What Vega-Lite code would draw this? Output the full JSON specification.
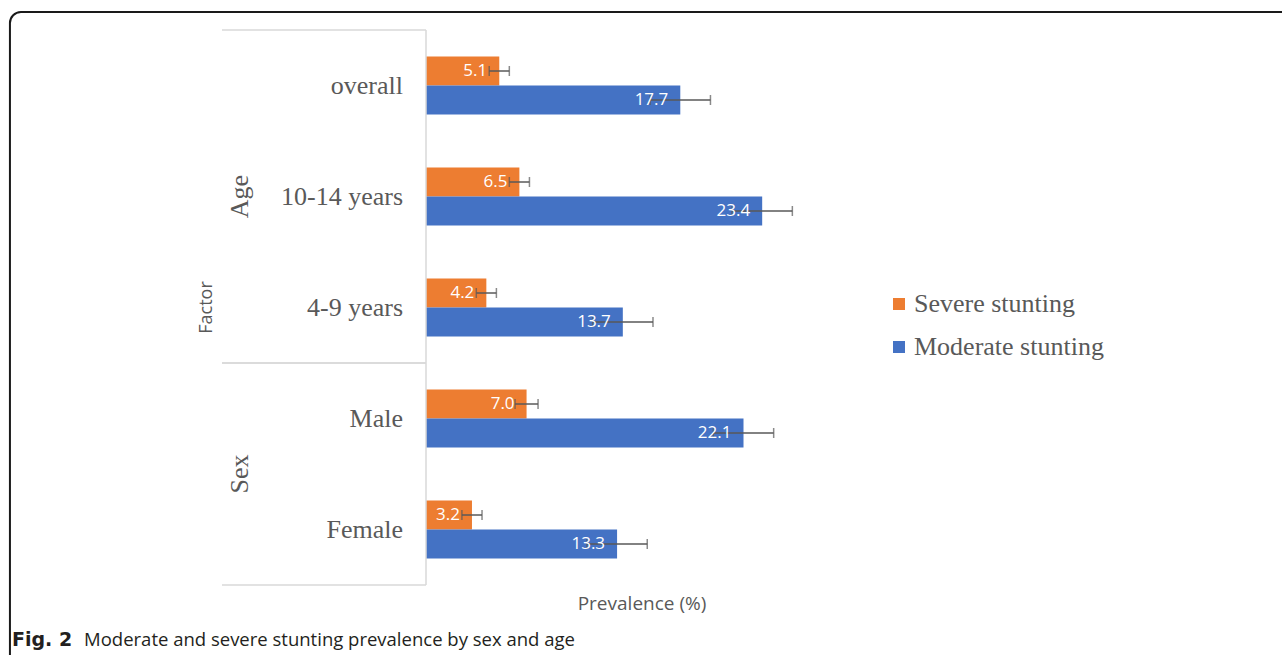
{
  "$schema": "https://vega.github.io/schema/vega-lite/v6.json",
  "width": 431,
  "height": 555,
  "autosize": {"type": "none"},
  "padding": {"left": 426, "top": 30, "right": 425, "bottom": 70},
  "background": "white",
  "config": {"view": {"stroke": null}, "axisX": {"domain": false, "grid": false, "ticks": false, "labels": false}},
  "datasets": {
    "prev": [
      {"category": "overall", "group": "Age", "series": "Severe stunting", "value": 5.1, "lo": 4.4, "hi": 5.8},
      {"category": "overall", "group": "Age", "series": "Moderate stunting", "value": 17.7, "lo": 15.6, "hi": 19.8},
      {"category": "10-14 years", "group": "Age", "series": "Severe stunting", "value": 6.5, "lo": 5.8, "hi": 7.2},
      {"category": "10-14 years", "group": "Age", "series": "Moderate stunting", "value": 23.4, "lo": 21.3, "hi": 25.5},
      {"category": "4-9 years", "group": "Age", "series": "Severe stunting", "value": 4.2, "lo": 3.5, "hi": 4.9},
      {"category": "4-9 years", "group": "Age", "series": "Moderate stunting", "value": 13.7, "lo": 11.6, "hi": 15.8},
      {"category": "Male", "group": "Sex", "series": "Severe stunting", "value": 7.0, "lo": 6.2, "hi": 7.8},
      {"category": "Male", "group": "Sex", "series": "Moderate stunting", "value": 22.1, "lo": 20.0, "hi": 24.2},
      {"category": "Female", "group": "Sex", "series": "Severe stunting", "value": 3.2, "lo": 2.5, "hi": 3.9},
      {"category": "Female", "group": "Sex", "series": "Moderate stunting", "value": 13.3, "lo": 11.2, "hi": 15.4}
    ],
    "groups": [
      {"group": "Age", "first": "overall", "middle": "10-14 years", "last": "4-9 years"},
      {"group": "Sex", "first": "Male", "middle": "Male", "last": "Female"}
    ],
    "caption": [
      {"bold": "Fig. 2", "text": "Moderate and severe stunting prevalence by sex and age", "ytitle": "Factor", "ymid": "4-9 years"}
    ]
  },
  "layer": [
    {
      "data": {"name": "prev"},
      "mark": {"type": "bar"},
      "encoding": {
        "x": {"field": "value", "type": "quantitative", "scale": {"domain": [0, 30], "nice": false},
          "axis": {"title": "Prevalence (%)", "labels": false, "ticks": false, "domain": false, "grid": false, "titleFont": "Open Sans", "titleFontSize": 19, "titleFontWeight": "normal", "titleColor": "#595959", "titlePadding": 9}},
        "y": {"field": "category", "type": "nominal", "axis": null, "scale": {"domain": ["overall", "10-14 years", "4-9 years", "Male", "Female"], "paddingInner": 0, "paddingOuter": 0}},
        "yOffset": {"field": "series", "type": "nominal", "scale": {"domain": ["Severe stunting", "Moderate stunting"], "paddingInner": 0, "paddingOuter": 0.914}},
        "color": {"field": "series", "type": "nominal",
          "scale": {"domain": ["Severe stunting", "Moderate stunting"], "range": ["#ED7D31", "#4472C4"]},
          "legend": {"orient": "none", "legendX": 460, "legendY": 261, "title": null, "symbolType": "square", "symbolSize": 144, "symbolStrokeWidth": 0, "labelFont": "Liberation Serif", "labelFontSize": 26, "labelColor": "#595959", "labelOffset": 2, "labelLimit": 0, "rowPadding": 17, "padding": 0}}
      }
    },
    {
      "data": {"name": "prev"},
      "transform": [{"filter": "datum.series === 'Severe stunting'"}],
      "mark": {"type": "text", "align": "right", "baseline": "middle", "font": "Liberation Serif", "fontSize": 26, "color": "#595959", "clip": false},
      "encoding": {
        "x": {"datum": -1.6, "type": "quantitative", "scale": {"domain": [0, 30], "nice": false}},
        "y": {"field": "category", "type": "nominal", "axis": null, "bandPosition": 0.5, "scale": {"domain": ["overall", "10-14 years", "4-9 years", "Male", "Female"], "paddingInner": 0, "paddingOuter": 0}},
        "text": {"field": "category"}
      }
    },
    {
      "data": {"name": "caption"},
      "mark": {"type": "text", "angle": 270, "align": "center", "baseline": "middle", "font": "Open Sans", "fontSize": 18, "color": "#595959", "clip": false},
      "encoding": {
        "x": {"datum": -15.24, "type": "quantitative", "scale": {"domain": [0, 30], "nice": false}},
        "y": {"field": "ymid", "type": "nominal", "axis": null, "bandPosition": 0.5, "scale": {"domain": ["overall", "10-14 years", "4-9 years", "Male", "Female"], "paddingInner": 0, "paddingOuter": 0}},
        "text": {"field": "ytitle"}
      }
    },
    {
      "data": {"name": "caption"},
      "mark": {"type": "rule", "color": "#d9d9d9", "strokeWidth": 1.5},
      "encoding": {
        "x": {"datum": 0, "type": "quantitative", "scale": {"domain": [0, 30], "nice": false}}
      }
    },
    {
      "data": {"name": "caption"},
      "mark": {"type": "rect", "fillOpacity": 0, "stroke": "#1a1a1a", "strokeWidth": 2, "cornerRadius": 11, "clip": false},
      "encoding": {
        "x": {"datum": -28.96, "type": "quantitative", "scale": {"domain": [0, 30], "nice": false}},
        "x2": {"datum": 70},
        "y": {"datum": "overall", "type": "nominal", "axis": null, "bandPosition": -0.162, "scale": {"domain": ["overall", "10-14 years", "4-9 years", "Male", "Female"], "paddingInner": 0, "paddingOuter": 0}},
        "y2": {"datum": "Female", "bandPosition": 2}
      }
    },
    {
      "data": {"name": "groups"},
      "mark": {"type": "rect", "color": "#d9d9d9", "strokeWidth": 0, "clip": false},
      "encoding": {
        "x": {"datum": -14.2, "type": "quantitative", "scale": {"domain": [0, 30], "nice": false}},
        "x2": {"datum": 0},
        "y": {"field": "first", "type": "nominal", "axis": null, "bandPosition": -0.0068, "scale": {"domain": ["overall", "10-14 years", "4-9 years", "Male", "Female"], "paddingInner": 0, "paddingOuter": 0}},
        "y2": {"field": "first", "bandPosition": 0.0068}
      }
    },
    {
      "data": {"name": "groups"},
      "mark": {"type": "rect", "color": "#d9d9d9", "strokeWidth": 0, "clip": false},
      "encoding": {
        "x": {"datum": -14.2, "type": "quantitative", "scale": {"domain": [0, 30], "nice": false}},
        "x2": {"datum": 0},
        "y": {"field": "last", "type": "nominal", "axis": null, "bandPosition": 0.9932, "scale": {"domain": ["overall", "10-14 years", "4-9 years", "Male", "Female"], "paddingInner": 0, "paddingOuter": 0}},
        "y2": {"field": "last", "bandPosition": 1.0068}
      }
    },
    {
      "data": {"name": "groups"},
      "transform": [{"filter": "datum.group === 'Age'"}],
      "mark": {"type": "text", "angle": 270, "align": "center", "baseline": "middle", "font": "Liberation Serif", "fontSize": 26, "color": "#595959", "clip": false},
      "encoding": {
        "x": {"datum": -12.95, "type": "quantitative", "scale": {"domain": [0, 30], "nice": false}},
        "y": {"field": "middle", "type": "nominal", "axis": null, "bandPosition": 0.5, "scale": {"domain": ["overall", "10-14 years", "4-9 years", "Male", "Female"], "paddingInner": 0, "paddingOuter": 0}},
        "text": {"field": "group"}
      }
    },
    {
      "data": {"name": "groups"},
      "transform": [{"filter": "datum.group === 'Sex'"}],
      "mark": {"type": "text", "angle": 270, "align": "center", "baseline": "middle", "font": "Liberation Serif", "fontSize": 26, "color": "#595959", "clip": false},
      "encoding": {
        "x": {"datum": -12.95, "type": "quantitative", "scale": {"domain": [0, 30], "nice": false}},
        "y": {"field": "middle", "type": "nominal", "axis": null, "bandPosition": 1, "scale": {"domain": ["overall", "10-14 years", "4-9 years", "Male", "Female"], "paddingInner": 0, "paddingOuter": 0}},
        "text": {"field": "group"}
      }
    },
    {
      "data": {"name": "prev"},
      "mark": {"type": "rule", "color": "#595959", "strokeWidth": 1.5},
      "encoding": {
        "x": {"field": "lo", "type": "quantitative", "scale": {"domain": [0, 30], "nice": false}},
        "x2": {"field": "hi"},
        "y": {"field": "category", "type": "nominal", "axis": null, "scale": {"domain": ["overall", "10-14 years", "4-9 years", "Male", "Female"], "paddingInner": 0, "paddingOuter": 0}},
        "yOffset": {"field": "series", "type": "nominal", "scale": {"domain": ["Severe stunting", "Moderate stunting"], "paddingInner": 0, "paddingOuter": 0.914}}
      }
    },
    {
      "data": {"name": "prev"},
      "mark": {"type": "tick", "color": "#595959", "thickness": 1.5, "size": 10},
      "encoding": {
        "x": {"field": "lo", "type": "quantitative", "scale": {"domain": [0, 30], "nice": false}},
        "y": {"field": "category", "type": "nominal", "axis": null, "scale": {"domain": ["overall", "10-14 years", "4-9 years", "Male", "Female"], "paddingInner": 0, "paddingOuter": 0}},
        "yOffset": {"field": "series", "type": "nominal", "scale": {"domain": ["Severe stunting", "Moderate stunting"], "paddingInner": 0, "paddingOuter": 0.914}}
      }
    },
    {
      "data": {"name": "prev"},
      "mark": {"type": "tick", "color": "#595959", "thickness": 1.5, "size": 10},
      "encoding": {
        "x": {"field": "hi", "type": "quantitative", "scale": {"domain": [0, 30], "nice": false}},
        "y": {"field": "category", "type": "nominal", "axis": null, "scale": {"domain": ["overall", "10-14 years", "4-9 years", "Male", "Female"], "paddingInner": 0, "paddingOuter": 0}},
        "yOffset": {"field": "series", "type": "nominal", "scale": {"domain": ["Severe stunting", "Moderate stunting"], "paddingInner": 0, "paddingOuter": 0.914}}
      }
    },
    {
      "data": {"name": "prev"},
      "mark": {"type": "text", "align": "right", "baseline": "middle", "dx": -12, "font": "Open Sans", "fontSize": 17, "color": "white"},
      "encoding": {
        "x": {"field": "value", "type": "quantitative", "scale": {"domain": [0, 30], "nice": false}},
        "y": {"field": "category", "type": "nominal", "axis": null, "scale": {"domain": ["overall", "10-14 years", "4-9 years", "Male", "Female"], "paddingInner": 0, "paddingOuter": 0}},
        "yOffset": {"field": "series", "type": "nominal", "scale": {"domain": ["Severe stunting", "Moderate stunting"], "paddingInner": 0, "paddingOuter": 0.914}},
        "text": {"field": "value", "type": "quantitative", "format": ".1f"}
      }
    },
    {
      "data": {"name": "caption"},
      "mark": {"type": "text", "align": "left", "baseline": "middle", "font": "DejaVu Sans", "fontSize": 19, "fontWeight": "bold", "color": "#231f20", "clip": false},
      "encoding": {
        "x": {"datum": -28.82, "type": "quantitative", "scale": {"domain": [0, 30], "nice": false}},
        "y": {"datum": "Female", "type": "nominal", "axis": null, "bandPosition": 1.495, "scale": {"domain": ["overall", "10-14 years", "4-9 years", "Male", "Female"], "paddingInner": 0, "paddingOuter": 0}},
        "text": {"field": "bold"}
      }
    },
    {
      "data": {"name": "caption"},
      "mark": {"type": "text", "align": "left", "baseline": "middle", "font": "Open Sans", "fontSize": 18.5, "color": "#231f20", "clip": false},
      "encoding": {
        "x": {"datum": -23.8, "type": "quantitative", "scale": {"domain": [0, 30], "nice": false}},
        "y": {"datum": "Female", "type": "nominal", "axis": null, "bandPosition": 1.495, "scale": {"domain": ["overall", "10-14 years", "4-9 years", "Male", "Female"], "paddingInner": 0, "paddingOuter": 0}},
        "text": {"field": "text"}
      }
    }
  ]
}
